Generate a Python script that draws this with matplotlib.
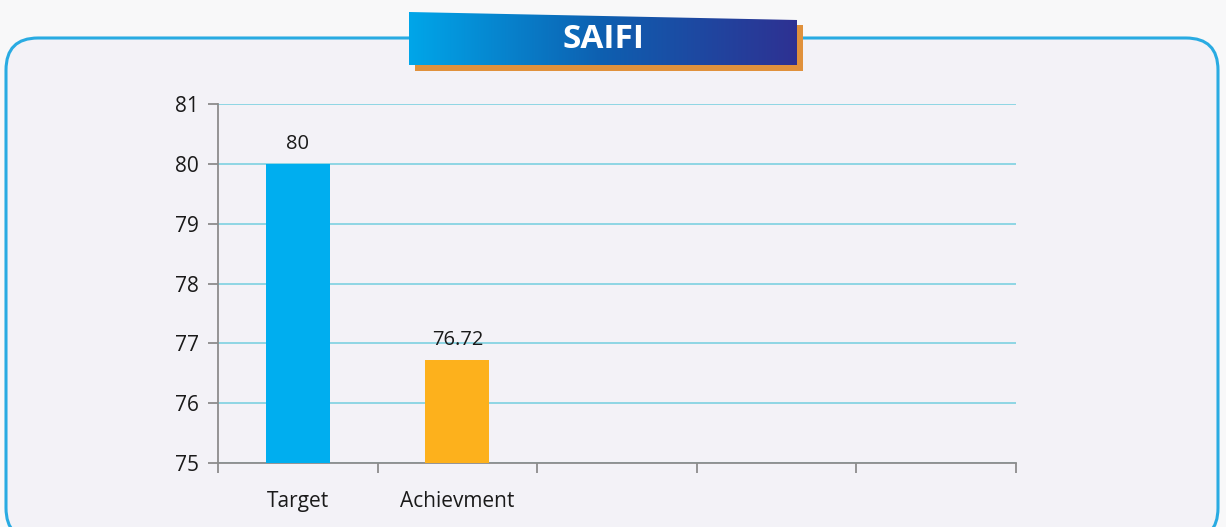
import numpy as np
import matplotlib
matplotlib.use("Agg")
import matplotlib.pyplot as plt
from matplotlib.patches import FancyBboxPatch, Polygon, Rectangle

plt.rcParams['font.family'] = ['Open Sans', 'DejaVu Sans']

categories = ['Target', 'Achievment', '', '', '']
values = [80, 76.72]
value_labels = ['80', '76.72']
bar_colors = ['#00aeef', '#fdb11c']
yticks = [75, 76, 77, 78, 79, 80, 81]
title = 'SAIFI'

W, H = 1226, 527
fig = plt.figure(figsize=(W / 100, H / 100), dpi=100)
fig.patch.set_facecolor('#f8f8f9')

# background layer in pixel coords
bg = fig.add_axes([0, 0, 1, 1])
bg.set_xlim(0, W)
bg.set_ylim(H, 0)
bg.axis('off')

panel = FancyBboxPatch((6, 38), W - 8 - 6, 540 - 38,
                       boxstyle='round,pad=0,rounding_size=32',
                       facecolor='#f3f2f7', edgecolor='#29abe2', lw=2.2)
bg.add_patch(panel)

# banner shadow
bg.add_patch(Rectangle((415, 25), 388, 46, facecolor='#e0913c', edgecolor='none', zorder=3))
# banner gradient, slanted top edge
grad = np.linspace(0, 1, 256).reshape(1, -1)
cmap = matplotlib.colors.LinearSegmentedColormap.from_list('b', ['#00a6e9', '#0e5fb0', '#2e3192'])
im = bg.imshow(grad, extent=(409, 797, 65, 12), aspect='auto', cmap=cmap, zorder=4)
clip = Polygon([(409, 12), (797, 20), (797, 65), (409, 65)], closed=True,
               transform=bg.transData, facecolor='none', edgecolor='none')
bg.add_patch(clip)
im.set_clip_path(clip)
bg.set_xlim(0, W)
bg.set_ylim(H, 0)
bg.text(603, 40, title, color='white', fontsize=24, fontweight='bold',
        ha='center', va='center', zorder=5)

# main chart
ax = fig.add_axes([218 / W, 1 - 463 / H, (1016 - 218) / W, (463 - 104) / H])
ax.patch.set_alpha(0)
x = np.arange(len(categories))
ax.bar(x[:len(values)], values, width=0.4, color=bar_colors, zorder=3)
ax.set_ylim(75, 81)
ax.set_xlim(-0.5, len(categories) - 0.5)
ax.set_yticks(yticks)
ax.yaxis.grid(True, color='#86d4e2', lw=1.3, zorder=0)
ax.set_axisbelow(True)

ax.set_xticks(np.arange(len(categories) + 1) - 0.5)
ax.set_xticklabels([])
ax.set_xticks(x, minor=True)
ax.set_xticklabels(categories, minor=True)
ax.tick_params(axis='x', which='minor', length=0, pad=20, labelsize=15, labelcolor='#1a1a1a')
ax.tick_params(axis='x', which='major', length=7, color='#8c8c8c', width=1.3)
ax.tick_params(axis='y', length=7, color='#8c8c8c', width=1.3, labelsize=15, pad=7,
               labelcolor='#1a1a1a')

for s in ['top', 'right']:
    ax.spines[s].set_visible(False)
for s in ['left', 'bottom']:
    ax.spines[s].set_color('#8c8c8c')
    ax.spines[s].set_linewidth(1.3)

for xi, v, lab in zip(x, values, value_labels):
    ax.annotate(lab, (xi, v), xytext=(0, 7), textcoords='offset points',
                ha='center', va='bottom', fontsize=14.5, color='#1a1a1a')

fig.savefig('out.png', dpi=100)
